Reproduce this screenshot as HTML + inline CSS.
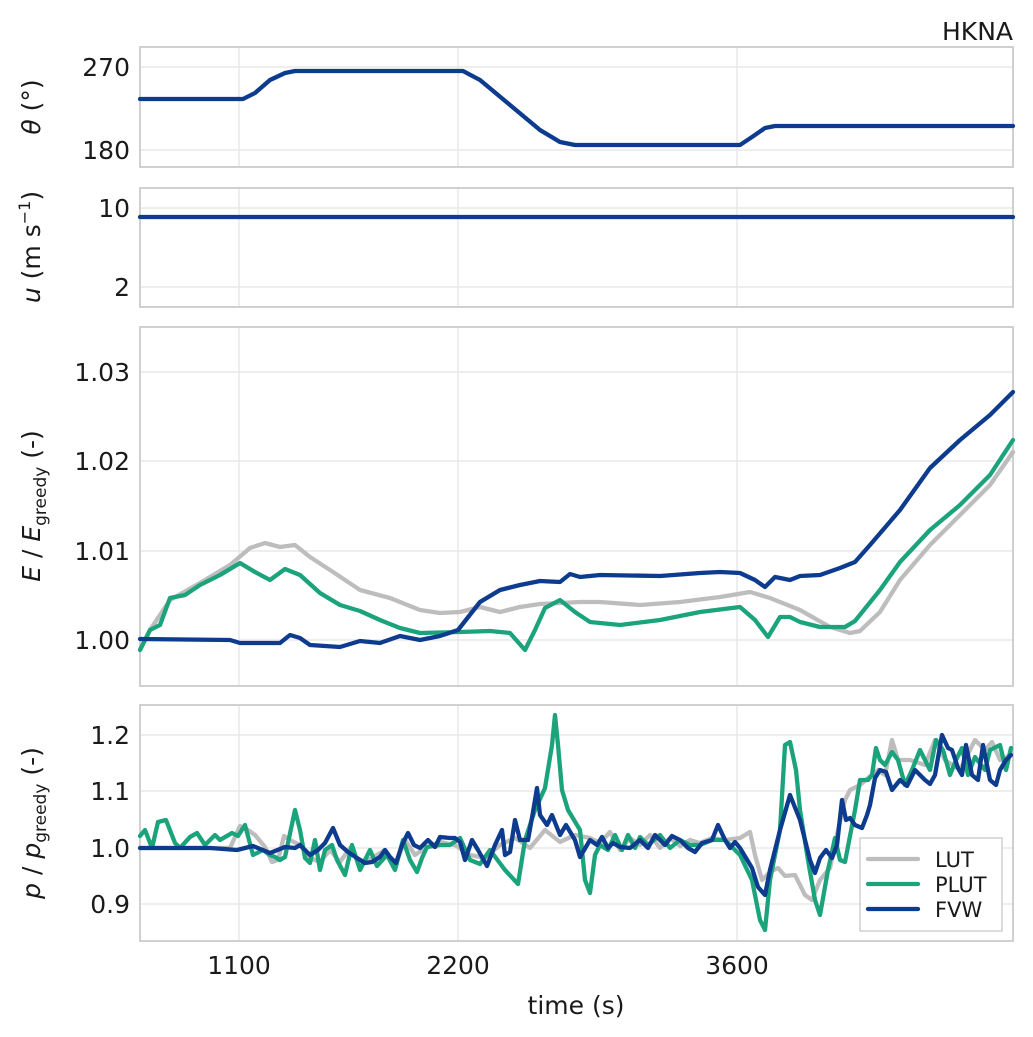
<!DOCTYPE html>
<html><head><meta charset="utf-8"><style>
body{margin:0;background:#fff}
svg{display:block;font-family:"DejaVu Sans","Liberation Sans",sans-serif}
.ax{fill:none;stroke:#d0d0d0;stroke-width:2}
.g{stroke:#e8e8e8;stroke-width:1.5}
.t{font-size:25px;fill:#1a1a1a}
.l{fill:none;stroke-width:4.3;stroke-linejoin:round;stroke-linecap:round}
.gr{stroke:#bdbdbd}.gn{stroke:#1ba37c}.bl{stroke:#0d3b8e}
</style></head><body>
<svg width="1033" height="1037" viewBox="0 0 1033 1037">
<g class="g">
<line x1="239" y1="47" x2="239" y2="167"/><line x1="458" y1="47" x2="458" y2="167"/><line x1="737" y1="47" x2="737" y2="167"/>
<line x1="140" y1="67" x2="1013" y2="67"/><line x1="140" y1="150" x2="1013" y2="150"/>
<line x1="239" y1="188" x2="239" y2="307"/><line x1="458" y1="188" x2="458" y2="307"/><line x1="737" y1="188" x2="737" y2="307"/>
<line x1="140" y1="208" x2="1013" y2="208"/><line x1="140" y1="287" x2="1013" y2="287"/>
<line x1="239" y1="327" x2="239" y2="686"/><line x1="458" y1="327" x2="458" y2="686"/><line x1="737" y1="327" x2="737" y2="686"/>
<line x1="140" y1="372" x2="1013" y2="372"/><line x1="140" y1="461" x2="1013" y2="461"/><line x1="140" y1="551" x2="1013" y2="551"/><line x1="140" y1="640" x2="1013" y2="640"/>
<line x1="239" y1="705" x2="239" y2="941"/><line x1="458" y1="705" x2="458" y2="941"/><line x1="737" y1="705" x2="737" y2="941"/>
<line x1="140" y1="735" x2="1013" y2="735"/><line x1="140" y1="791" x2="1013" y2="791"/><line x1="140" y1="848" x2="1013" y2="848"/><line x1="140" y1="904" x2="1013" y2="904"/>
</g>
<rect class="ax" x="140" y="47" width="873" height="120"/>
<rect class="ax" x="140" y="188" width="873" height="119"/>
<rect class="ax" x="140" y="327" width="873" height="359"/>
<rect class="ax" x="140" y="705" width="873" height="236"/>

<polyline class="l bl" points="140,99 243,99 255,93 270,80 285,73 295,71 463,71 480,80 510,105 540,130 560,142 575,145 740,145 752,137 765,128 775,126 1013,126"/>
<line class="l bl" x1="140" y1="217" x2="1013" y2="217"/>

<polyline class="l gr" points="140,650 150,630 170,600 200,583 230,565 250,548 265,543 280,547 295,545 310,557 330,570 360,590 390,598 420,610 440,613 460,612 480,607 500,612 520,607 540,604 560,603 580,602 600,602 640,605 680,602 720,597 750,592 770,598 800,610 830,627 850,633 860,631 880,612 900,580 930,545 960,515 990,485 1013,452"/>
<polyline class="l gn" points="140,650 150,630 160,625 170,598 185,595 200,585 220,575 240,563 255,572 270,580 285,569 300,575 320,593 340,605 360,611 380,620 400,628 420,633 460,632 490,631 510,633 525,650 535,630 545,608 560,600 575,612 590,622 620,625 660,620 700,612 740,607 755,620 768,637 780,617 790,617 800,622 820,627 845,627 855,621 880,590 900,562 930,530 960,505 990,475 1013,440"/>
<polyline class="l bl" points="140,639 230,640 240,643 280,643 290,635 300,638 310,645 340,647 360,641 380,643 400,636 420,640 440,636 458,630 480,602 500,590 520,585 540,581 560,582 570,574 580,577 600,575 660,576 700,573 720,572 740,573 755,580 765,587 775,577 790,580 800,576 820,575 840,568 855,562 870,545 900,510 930,468 960,440 990,415 1013,392"/>

<polyline class="l gr" points="140,848 230,848 240,826 248,830 255,835 265,847 272,862 278,860 284,836 290,840 300,845 310,858 320,862 330,850 340,862 350,848 360,865 372,858 385,850 395,866 405,840 415,855 425,848 440,842 455,845 470,855 485,858 500,845 515,838 530,848 545,830 560,842 575,835 590,838 600,843 610,832 620,850 630,838 640,845 650,835 660,848 670,838 680,846 690,840 700,843 712,838 725,840 740,838 750,832 755,855 762,880 770,872 778,868 785,876 795,875 805,895 812,900 820,880 830,868 838,830 845,800 850,790 860,785 868,778 878,770 885,775 892,740 898,760 910,760 925,765 935,740 945,760 960,770 975,740 985,750 992,742 1000,760 1011,755"/>
<polyline class="l gn" points="140,836 145,830 152,848 158,822 166,820 175,843 180,848 190,837 197,833 205,845 215,835 220,840 232,833 238,836 245,825 253,855 263,850 270,855 275,857 280,860 285,857 295,810 300,830 305,858 310,863 315,840 320,870 325,850 332,845 337,860 345,875 352,845 360,870 370,850 377,866 387,855 395,870 403,840 410,860 417,872 422,858 427,847 440,845 450,845 460,838 470,860 480,864 490,850 505,870 518,884 525,840 535,810 545,788 552,745 555,715 558,745 562,790 568,810 580,830 585,880 590,893 595,855 600,845 608,850 615,835 622,850 628,835 635,848 640,837 648,845 660,835 670,848 680,840 690,845 700,845 712,840 725,840 740,855 752,880 760,920 765,930 770,880 780,830 785,745 790,742 796,770 800,810 808,860 815,900 820,915 828,870 835,838 840,860 845,862 850,836 855,810 860,780 868,780 872,775 876,748 880,760 885,765 892,752 898,760 905,785 912,770 920,750 925,760 930,770 936,740 943,750 950,775 956,760 962,748 968,775 975,757 985,770 990,750 1000,745 1006,770 1011,748"/>
<polyline class="l bl" points="140,848 210,848 237,850 253,846 270,853 285,847 295,848 300,845 305,850 310,855 318,850 325,843 333,828 340,845 348,852 357,858 365,863 372,862 380,857 385,850 390,857 396,863 402,845 408,833 414,845 420,848 428,840 435,847 440,837 450,838 455,838 460,842 465,860 472,840 478,850 487,866 495,845 502,830 505,855 510,852 515,820 520,840 528,840 533,812 537,788 540,815 547,825 552,815 560,835 566,825 575,840 580,857 590,840 597,845 602,837 608,848 613,843 620,847 630,848 640,840 648,848 655,835 660,840 665,845 672,836 680,840 688,848 695,852 702,843 712,840 718,825 725,840 730,848 735,842 740,848 752,868 758,887 765,895 770,870 780,830 790,795 800,820 810,860 815,873 820,858 826,850 832,858 837,845 842,800 846,820 850,818 855,825 862,828 867,815 870,805 875,778 880,770 886,772 892,790 900,780 907,786 915,770 925,780 930,784 935,775 942,735 948,748 952,750 958,768 962,775 966,745 972,775 978,780 983,745 990,780 996,785 1000,770 1006,760 1011,755"/>

<rect x="860" y="838" width="142" height="93" fill="#fff" fill-opacity="0.9" stroke="#d0d0d0" stroke-width="1.5"/>
<line class="l gr" x1="868" y1="859" x2="918" y2="859"/>
<line class="l gn" x1="868" y1="884" x2="918" y2="884"/>
<line class="l bl" x1="868" y1="909" x2="918" y2="909"/>
<text x="935" y="867" style="font-size:21px;fill:#1a1a1a">LUT</text>
<text x="935" y="892" style="font-size:21px;fill:#1a1a1a">PLUT</text>
<text x="935" y="917" style="font-size:21px;fill:#1a1a1a">FVW</text>

<g class="t" text-anchor="end">
<text x="130" y="76">270</text><text x="130" y="159">180</text>
<text x="130" y="217">10</text><text x="130" y="296">2</text>
<text x="130" y="381">1.03</text><text x="130" y="470">1.02</text><text x="130" y="560">1.01</text><text x="130" y="649">1.00</text>
<text x="130" y="744">1.2</text><text x="130" y="800">1.1</text><text x="130" y="857">1.0</text><text x="130" y="913">0.9</text>
</g>
<g class="t" text-anchor="middle">
<text x="239" y="974">1100</text><text x="458" y="974">2200</text><text x="737" y="974">3600</text>
<text x="576" y="1014">time (s)</text>
</g>
<text class="t" x="1013" y="40" text-anchor="end">HKNA</text>
<g class="t" text-anchor="middle">
<text transform="translate(40,107) rotate(-90)"><tspan font-style="italic">θ</tspan> (°)</text>
<text transform="translate(40,247) rotate(-90)"><tspan font-style="italic">u</tspan> (m s<tspan dy="-10" font-size="16">−1</tspan><tspan dy="10">)</tspan></text>
<text transform="translate(40,506) rotate(-90)"><tspan font-style="italic">E</tspan> / <tspan font-style="italic">E</tspan><tspan dy="6" font-size="17">greedy</tspan><tspan dy="-6"> (-)</tspan></text>
<text transform="translate(40,823) rotate(-90)"><tspan font-style="italic">p</tspan> / <tspan font-style="italic">p</tspan><tspan dy="6" font-size="17">greedy</tspan><tspan dy="-6"> (-)</tspan></text>
</g>
</svg>
</body></html>
